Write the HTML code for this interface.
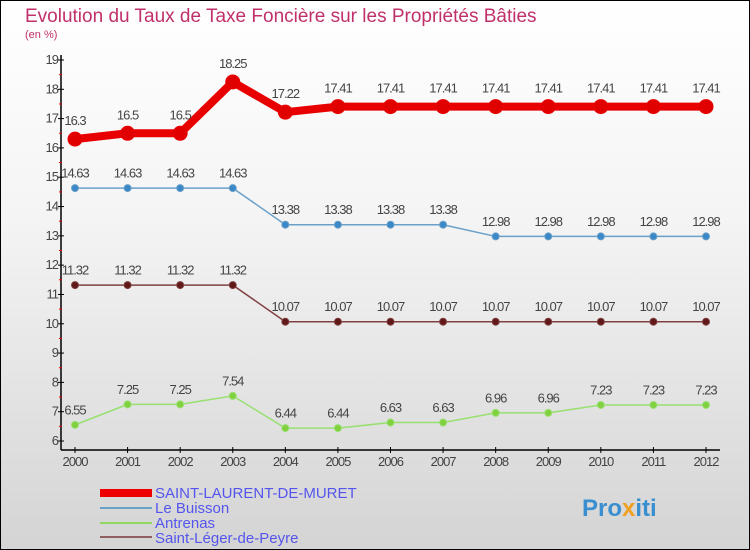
<!DOCTYPE html>
<html><head><meta charset="utf-8"><style>
body{margin:0;width:750px;height:550px;overflow:hidden;font-family:"Liberation Sans","DejaVu Sans",sans-serif}
#wrap{position:relative;width:748px;height:548px;border:1px solid #000;background:linear-gradient(#ffffff,#f4f4f4 40%,#d4d4d4)}
</style></head><body>
<div id="wrap">
<svg id="chart" width="750" height="550" style="position:absolute;left:-1px;top:-1px">
<text x="25" y="22" font-size="19" font-weight="normal" fill="#c0306a">Evolution du Taux de Taxe Foncière sur les Propriétés Bâties</text>
<text x="25" y="38" font-size="11" fill="#c0306a">(en %)</text>
<g id="axes"></g><g id="series"></g>
<g id="legend" font-size="15" fill="#5555ee">
<rect x="100" y="489" width="52" height="8" fill="#e00"/>
<text x="155" y="498">SAINT-LAURENT-DE-MURET</text>
<rect x="100" y="507" width="52" height="2" fill="#6aa0c8"/>
<text x="155" y="513">Le Buisson</text>
<rect x="100" y="522" width="52" height="2" fill="#90d860"/>
<text x="155" y="528">Antrenas</text>
<rect x="100" y="536" width="52" height="2" fill="#906060"/>
<text x="155" y="543">Saint-Léger-de-Peyre</text>
</g>
<text x="582" y="516" font-size="24" font-weight="bold" fill="#3a8fd0">Pro<tspan fill="#f0a020">x</tspan>iti</text>
</svg></div>
<script>
const years=[2000,2001,2002,2003,2004,2005,2006,2007,2008,2009,2010,2011,2012];
const yTicks=[6,7,8,9,10,11,12,13,14,15,16,17,18,19];
const saintLaurent=[16.3,16.5,16.5,18.25,17.22,17.41,17.41,17.41,17.41,17.41,17.41,17.41,17.41];
const leBuisson=[14.63,14.63,14.63,14.63,13.38,13.38,13.38,13.38,12.98,12.98,12.98,12.98,12.98];
const antrenas=[6.55,7.25,7.25,7.54,6.44,6.44,6.63,6.63,6.96,6.96,7.23,7.23,7.23];
const saintLeger=[11.32,11.32,11.32,11.32,10.07,10.07,10.07,10.07,10.07,10.07,10.07,10.07,10.07];
const NS="http://www.w3.org/2000/svg";
function X(i){return 75+i*(706-75)/(years.length-1);}
function Y(v){return 441-(v-6)*(441-60)/13;}
function mk(t,a,p){const e=document.createElementNS(NS,t);for(const k in a)e.setAttribute(k,a[k]);p.appendChild(e);return e;}
const ax=document.getElementById('axes');
let l=mk('line',{x1:61,y1:55,x2:61,y2:450,stroke:'#000','stroke-width':1.5},ax);


l=mk('line',{x1:61,y1:450,x2:720,y2:450,stroke:'#000','stroke-width':1.5},ax);


yTicks.forEach(v=>{
 mk('line',{x1:58,y1:Y(v),x2:64,y2:Y(v),stroke:'#000'},ax);
 if(v<19)mk('line',{x1:59,y1:Y(v+0.5),x2:62,y2:Y(v+0.5),stroke:'#e00'},ax);
 const t=mk('text',{x:58,y:Y(v)+4,'text-anchor':'end','font-size':13,fill:'#444','letter-spacing':'-1'},ax);
 t.textContent=v;
 
 
});
years.forEach((y,i)=>{
 mk('line',{x1:X(i),y1:447,x2:X(i),y2:453,stroke:'#000'},ax);
 const t=mk('text',{x:X(i),y:466,'text-anchor':'middle','font-size':13,fill:'#444','letter-spacing':'-1'},ax);
 t.textContent=y;
 
 
});
const sg=document.getElementById('series');
function draw(data,name,color,dot,w,r){
 const g=mk('g',{},sg);
 
 
 const pl=mk('polyline',{points:data.map((v,i)=>X(i)+','+Y(v)).join(' '),fill:'none',stroke:color,'stroke-width':w,'stroke-linejoin':'round'},g);
 
 
 data.forEach((v,i)=>{
  const c=mk('circle',{cx:X(i),cy:Y(v),r:r,fill:dot,stroke:color,'stroke-width':1},g);
  
  
  const t=mk('text',{x:X(i),y:Y(v)-r-7,'text-anchor':'middle','font-size':13,fill:'#444','letter-spacing':'-1'},g);
  t.textContent=v;
  
  
 });
}
draw(leBuisson,'le-buisson','#6aa0c8','#3a88c8',1.5,3.5);
draw(antrenas,'antrenas','#98e070','#80d040',1.5,3.5);
draw(saintLeger,'saint-leger','#804040','#601818',1.5,3.5);
draw(saintLaurent,'saint-laurent','#e80000','#e00000',8,7);
</script>
</body></html>
